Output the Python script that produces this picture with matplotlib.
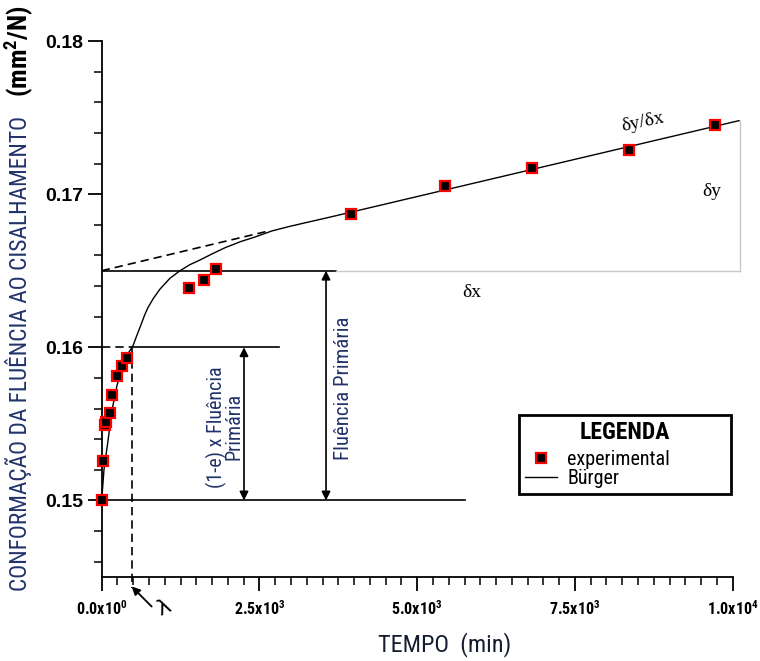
import matplotlib
matplotlib.use("Agg")
import matplotlib.pyplot as plt
from matplotlib import font_manager
from matplotlib.lines import Line2D
from matplotlib.ticker import MultipleLocator, FixedLocator

SANS = "Liberation Sans"
SERIF = "Liberation Serif"

# pick a narrow / condensed sans if one is installed
NARROW, NSTRETCH = SANS, "normal"
_pref = ["Liberation Sans Narrow", "Roboto Condensed", "Open Sans Condensed", "Noto Sans Condensed"]
_names = {f.name: f for f in font_manager.fontManager.ttflist}
for n in _pref:
    if n in _names:
        NARROW, NSTRETCH = n, "normal"
        break
else:
    for f in font_manager.fontManager.ttflist:
        if f.name in ("Noto Sans", "Open Sans", "Roboto", "DejaVu Sans", "Liberation Sans") and \
                f.stretch in ("condensed", "semi-condensed", "extra-condensed"):
            NARROW, NSTRETCH = f.name, f.stretch
            break
NF = {"family": NARROW, "stretch": NSTRETCH}

# ---- data ----
exp_t = [0, 25, 52, 68, 131, 158, 248, 326, 406, 1388, 1621, 1811, 3946, 5445, 6824, 8357, 9719]
exp_y = [0.1500, 0.1526, 0.1549, 0.1551, 0.1557, 0.1569, 0.1581, 0.1588, 0.1593,
         0.1639, 0.1644, 0.1651, 0.1687, 0.1705, 0.1717, 0.1729, 0.1745]

burger_t = [0, 36, 100, 163, 242, 322, 401, 450, 496, 550, 607, 680, 734, 820, 924,
            1080, 1241, 1400, 1558, 1750, 1954, 2200, 2429, 2700, 2984, 3300, 3618, 10100]
burger_y = [0.1500, 0.1520, 0.1539, 0.1559, 0.1575, 0.1587, 0.1595, 0.1598, 0.1601,
            0.1607, 0.1613, 0.1621, 0.1626, 0.1632, 0.1638, 0.1645, 0.1650, 0.1654,
            0.1657, 0.1661, 0.1665, 0.1669, 0.1672, 0.1676, 0.1679, 0.1682, 0.1685, 0.1748]

asym_t = [0, 2650]
asym_y = [0.1650, 0.1676]

lam = 475
y_primary = 0.1650
y_lam = 0.1600
y_base = 0.1500
y_end = 0.1748

xticks = [0, 2500, 5000, 7500, 10000]
xticklabels = ["0.0x10$^{0}$", "2.5x10$^{3}$", "5.0x10$^{3}$", "7.5x10$^{3}$", "1.0x10$^{4}$"]
yticks = [0.15, 0.16, 0.17, 0.18]
yticklabels = ["0.15", "0.16", "0.17", "0.18"]

plt.rcParams["mathtext.fontset"] = "custom"
plt.rcParams["mathtext.rm"] = NARROW + ":bold"
plt.rcParams["mathtext.it"] = NARROW + ":bold"
plt.rcParams["mathtext.bf"] = NARROW + ":bold"

fig = plt.figure(figsize=(7.6, 6.61), dpi=100)
L, R, B, T = 101.7, 732.7, 577, 41
ax = fig.add_axes([L / 760, 1 - B / 661, (R - L) / 760, (B - T) / 661])
ax.set_xlim(0, 10000)
ax.set_ylim(0.145, 0.18)
for s in ["top", "right"]:
    ax.spines[s].set_visible(False)
for s in ["left", "bottom"]:
    ax.spines[s].set_linewidth(1.3)

NAVY = "#22336a"

# reference lines
ax.plot([0, 3713], [y_primary, y_primary], color="black", lw=1.2)
ax.plot([3713, 10116], [y_primary, y_primary], color="#c8c8c8", lw=1.0, clip_on=False)
ax.plot([10116, 10116], [y_primary, y_end], color="#c8c8c8", lw=1.0, clip_on=False)
ax.plot([0, lam], [y_lam, y_lam], color="black", lw=1.2, ls=(0, (5, 3)))
ax.plot([lam, 2810], [y_lam, y_lam], color="black", lw=1.2)
ax.plot([0, 5760], [y_base, y_base], color="black", lw=1.2)
ax.plot([lam, lam], [y_lam, 0.1443], color="black", lw=1.2, ls=(0, (5, 3)), clip_on=False)
ax.plot(asym_t, asym_y, color="black", lw=1.2, ls=(0, (5, 3)))

# Burger curve and points
ax.plot(burger_t, burger_y, color="black", lw=1.0, clip_on=False)
ax.plot(exp_t, exp_y, ls="none", marker="s", ms=7.3, mfc="black", mec="red", mew=1.6,
        clip_on=False, zorder=5)

# arrows
ap = dict(arrowstyle="<|-|>", mutation_scale=13, lw=1.2, color="black", shrinkA=0, shrinkB=0)
ax.annotate("", xy=(2255, y_lam), xytext=(2255, y_base), arrowprops=ap)
ax.annotate("", xy=(3555, y_primary), xytext=(3555, y_base), arrowprops=ap)
ax.annotate("", xy=(lam, 0.14438), xytext=(792, 0.14307), annotation_clip=False,
            arrowprops=dict(arrowstyle="-|>", mutation_scale=12, lw=1.3, color="black",
                            shrinkA=0, shrinkB=0))
ax.text(990, 0.1430, "λ", fontsize=16, rotation=25, ha="center", va="center", clip_on=False,
        family=["DejaVu Sans"])

ax.text(1955, 0.1548, "(1-e) x Fluência\nPrimária", rotation=90, ha="center", va="center",
        fontsize=14.5, color=NAVY, linespacing=0.82, **NF)
ax.text(3830, 0.1573, "Fluência Primária", rotation=90, ha="center", va="center",
        fontsize=15, color=NAVY, **NF)

ax.text(8570, 0.1747, "δy/δx", fontsize=14, rotation=12, ha="center", va="center", family=SERIF)
ax.text(9672, 0.1702, "δy", fontsize=14, ha="center", va="center", family=SERIF)
ax.text(5868, 0.1636, "δx", fontsize=14, ha="center", va="center", family=SERIF)

# ticks
ax.xaxis.set_major_locator(FixedLocator(xticks))
ax.xaxis.set_minor_locator(MultipleLocator(250))
ax.yaxis.set_major_locator(FixedLocator(yticks))
ax.yaxis.set_minor_locator(MultipleLocator(0.002))
ax.set_xticklabels(xticklabels, fontsize=11.5, fontweight="bold", **NF)
ax.set_yticklabels(yticklabels, fontsize=14, fontweight="bold", family=SANS)
ax.tick_params(which="major", length=10, width=1.3, direction="out")
ax.tick_params(which="minor", length=6, width=1.1, direction="out")
ax.tick_params(axis="x", which="major", pad=6)

# axis labels
fig.text(445 / 760, 1 - 645 / 661, "TEMPO  (min)", fontsize=17.5, ha="center", va="center",
         color="#151c30", **NF)
fig.text(19 / 760, 1 - 591 / 661, "CONFORMAÇÃO DA FLUÊNCIA AO CISALHAMENTO", rotation=90,
         ha="center", va="bottom", fontsize=16.8, color=NAVY, **NF)
fig.text(19 / 760, 1 - 5 / 661, "(mm$^{2}$/N)", rotation=90,
         ha="center", va="top", fontsize=19, fontweight="bold", color="black", **NF)

# legend
handles = [Line2D([], [], ls="none", marker="s", ms=7.3, mfc="black", mec="red", mew=1.6),
           Line2D([], [], color="black", lw=1.0)]
leg = fig.legend(handles, ["experimental", "Bürger"], title="LEGENDA",
                 loc="upper left",
                 bbox_to_anchor=(519 / 760, 1 - 497 / 661, 212 / 760, 82 / 661),
                 mode="expand", fancybox=False, edgecolor="black", framealpha=1,
                 prop={"size": 14.5, **NF}, handlelength=1.6, handletextpad=0.5,
                 labelspacing=0.0, borderpad=0.3, borderaxespad=0,
                 title_fontproperties={"size": 17, "weight": "bold", **NF})
leg.get_frame().set_linewidth(2)
leg._legend_box.sep = 4

fig.savefig("out.png", dpi=100)
